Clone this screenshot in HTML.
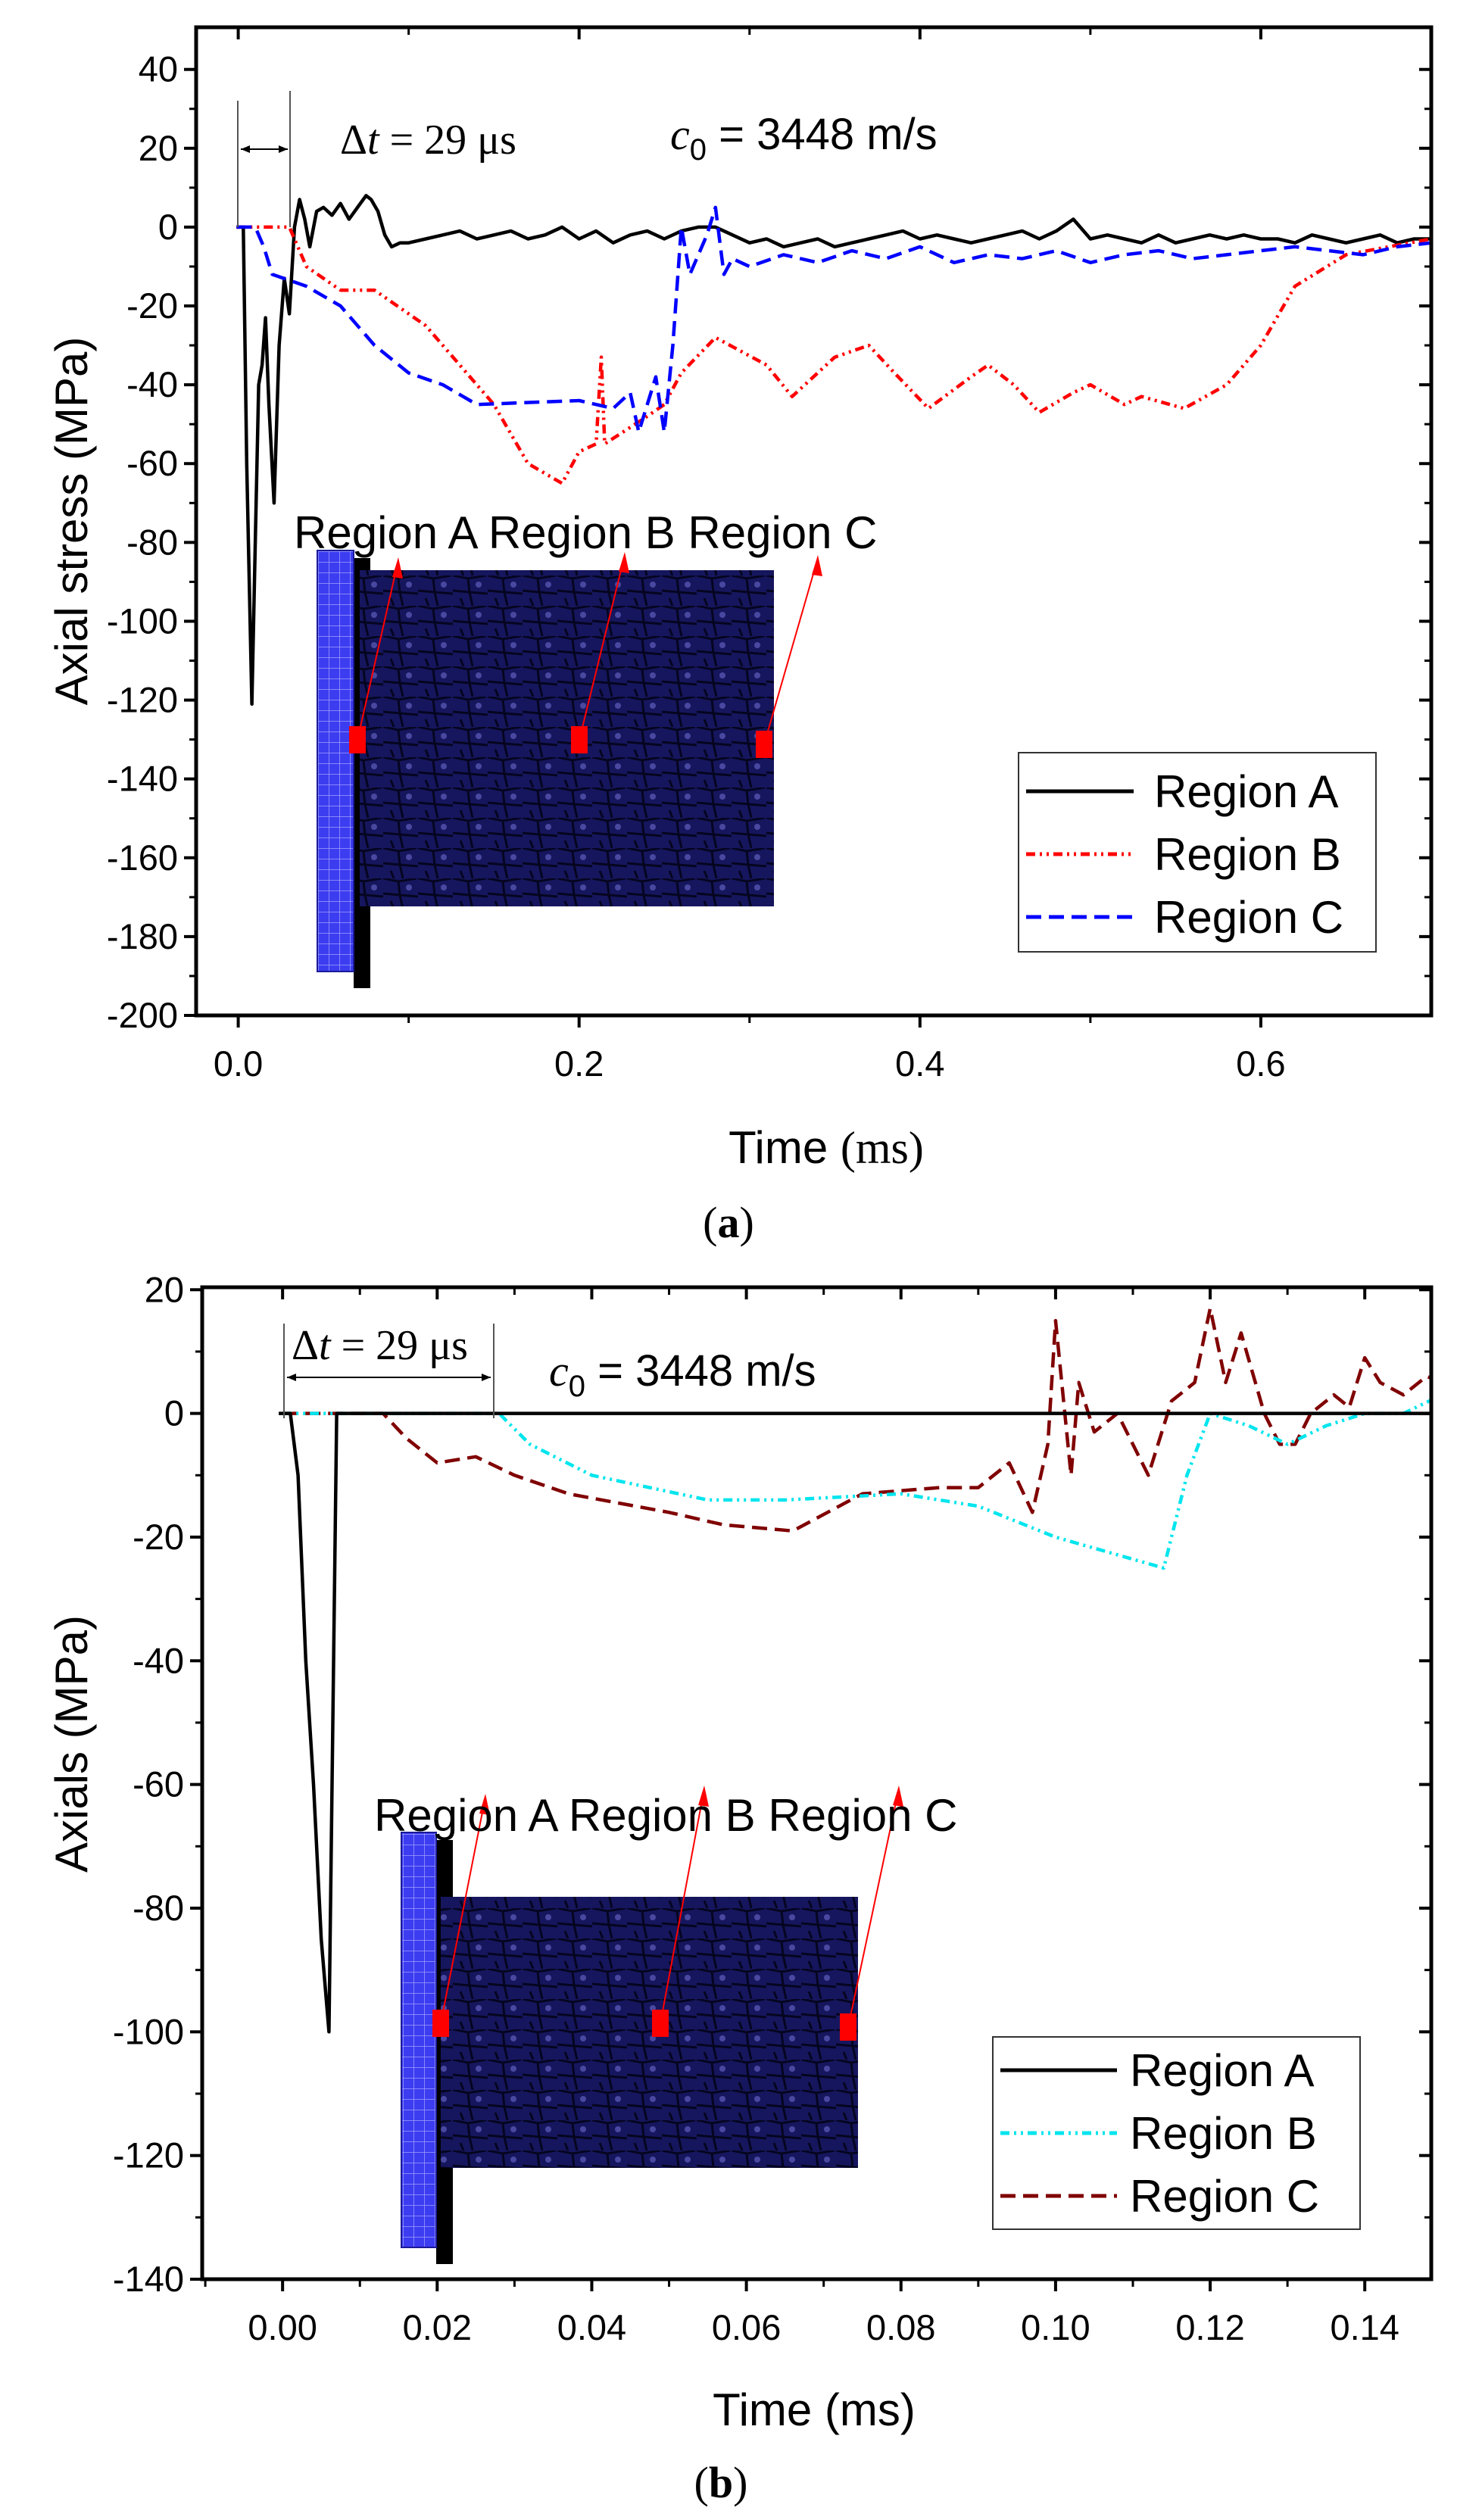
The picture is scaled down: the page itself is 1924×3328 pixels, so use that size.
<!DOCTYPE html>
<html><head><meta charset="utf-8"><style>
html,body{margin:0;padding:0;background:#fff}
svg{display:block}
text{font-family:"Liberation Sans",sans-serif}
.serif{font-family:"Liberation Serif",serif}
</style></head><body>
<svg id="svg" width="1924" height="3328" viewBox="0 0 1924 3328" xmlns="http://www.w3.org/2000/svg">
<defs>
<pattern id="plateGrid" width="14" height="14" patternUnits="userSpaceOnUse"><rect width="14" height="14" fill="#3c3cf0"/><path d="M0 0H14M0 0V14" stroke="#9fa0ff" stroke-width="1.5"/></pattern>
<pattern id="meshGrid" width="46" height="40" patternUnits="userSpaceOnUse"><rect width="46" height="40" fill="#16165e"/><path d="M0 0L20 4L44 0M20 4L22 22L0 20M22 22L46 24M22 22L26 40M10 30L14 40" stroke="#050520" stroke-width="3" fill="none"/><circle cx="34" cy="12" r="4" fill="#4848a0"/></pattern>
<clipPath id="clipA"><rect x="259" y="36" width="1631" height="1305"/></clipPath>
<clipPath id="clipB"><rect x="267" y="1700" width="1623" height="1310"/></clipPath>
</defs>
<g id="chartA"></g>
<g id="chartB"></g>
</svg>
<script>
// ---- Chart (a) data ----
const aATime=[-0.001,0.003,0.005,0.008,0.010,0.012,0.014,0.016,0.018,0.021,0.024,0.027,0.030,0.033,0.036,0.039,0.042,0.046,0.050,0.055,0.060,0.065,0.070,0.075,0.078,0.082,0.086,0.090,0.095,0.100,0.110,0.120,0.130,0.140,0.150,0.160,0.170,0.180,0.190,0.200,0.210,0.220,0.230,0.240,0.250,0.260,0.270,0.280,0.290,0.300,0.310,0.320,0.330,0.340,0.350,0.360,0.370,0.380,0.390,0.400,0.410,0.420,0.430,0.440,0.450,0.460,0.470,0.480,0.490,0.500,0.510,0.520,0.530,0.540,0.550,0.560,0.570,0.580,0.590,0.600,0.610,0.620,0.630,0.640,0.650,0.660,0.670,0.680,0.690,0.700];
const aAVal=[0,0,-60,-121,-80,-40,-35,-23,-45,-70,-30,-13,-22,0,7,2,-5,4,5,3,6,2,5,8,7,4,-2,-5,-4,-4,-3,-2,-1,-3,-2,-1,-3,-2,0,-3,-1,-4,-2,-1,-3,-1,0,0,-2,-4,-3,-5,-4,-3,-5,-4,-3,-2,-1,-3,-2,-3,-4,-3,-2,-1,-3,-1,2,-3,-2,-3,-4,-2,-4,-3,-2,-3,-2,-3,-3,-4,-2,-3,-4,-3,-2,-4,-3,-3];
const aBTime=[-0.001,0.030,0.040,0.060,0.080,0.110,0.150,0.170,0.190,0.200,0.210,0.213,0.215,0.240,0.250,0.260,0.280,0.310,0.325,0.350,0.370,0.385,0.405,0.430,0.440,0.455,0.470,0.490,0.500,0.520,0.530,0.555,0.580,0.600,0.620,0.650,0.700];
const aBVal=[0,0,-10,-16,-16,-25,-45,-60,-65,-57,-55,-33,-55,-48,-45,-37,-28,-35,-43,-33,-30,-37,-46,-38,-35,-40,-47,-42,-40,-45,-43,-46,-40,-30,-15,-7,-3];
const aCTime=[-0.001,0.010,0.015,0.020,0.040,0.060,0.080,0.100,0.120,0.140,0.200,0.220,0.230,0.235,0.245,0.250,0.255,0.260,0.265,0.275,0.280,0.285,0.290,0.300,0.320,0.340,0.360,0.380,0.400,0.420,0.440,0.460,0.480,0.500,0.520,0.540,0.560,0.580,0.600,0.620,0.640,0.660,0.680,0.700];
const aCVal=[0,0,-5,-12,-15,-20,-30,-37,-40,-45,-44,-46,-42,-52,-38,-52,-30,0,-12,-2,5,-12,-8,-10,-7,-9,-6,-8,-5,-9,-7,-8,-6,-9,-7,-6,-8,-7,-6,-5,-6,-7,-5,-4];
const aYTicks=[40,20,0,-20,-40,-60,-80,-100,-120,-140,-160,-180,-200];
const aXTicks=[0.0,0.2,0.4,0.6];
const aXLabels=["0.0","0.2","0.4","0.6"];
// ---- Chart (b) data ----
const bATime=[-0.0005,0.001,0.002,0.003,0.004,0.005,0.006,0.007,0.010,0.150];
const bAVal=[0,0,-10,-40,-60,-85,-100,0,0,0];
const bBTime=[0.000,0.028,0.032,0.040,0.055,0.065,0.080,0.090,0.100,0.114,0.117,0.120,0.125,0.130,0.135,0.140,0.145,0.150];
const bBVal=[0,0,-5,-10,-14,-14,-13,-15,-20,-25,-10,0,-2,-5,-2,0,0,3];
const bCTime=[0.000,0.013,0.016,0.020,0.025,0.030,0.037,0.050,0.057,0.066,0.075,0.085,0.090,0.094,0.097,0.099,0.100,0.102,0.103,0.105,0.108,0.112,0.115,0.118,0.120,0.122,0.124,0.127,0.129,0.131,0.133,0.136,0.138,0.140,0.142,0.145,0.148,0.150];
const bCVal=[0,0,-4,-8,-7,-10,-13,-16,-18,-19,-13,-12,-12,-8,-16,-5,15,-10,5,-3,0,-10,2,5,17,5,13,0,-5,-5,0,3,1,9,5,3,6,5];
const bYTicks=[20,0,-20,-40,-60,-80,-100,-120,-140];
const bXTicks=[0.00,0.02,0.04,0.06,0.08,0.10,0.12,0.14];
const bXLabels=["0.00","0.02","0.04","0.06","0.08","0.10","0.12","0.14"];

const NS="http://www.w3.org/2000/svg";
function mk(parent,tag,attrs,txt){const e=document.createElementNS(NS,tag);for(const k in attrs)e.setAttribute(k,attrs[k]);if(txt!==undefined)e.textContent=txt;parent.appendChild(e);return e;}

function drawChart(g,cfg){
  const X=v=>cfg.L+(v-cfg.x0)/(cfg.x1-cfg.x0)*(cfg.R-cfg.L);
  const Y=v=>cfg.T+(cfg.y1-v)/(cfg.y1-cfg.y0)*(cfg.B-cfg.T);
  const sg=mk(g,'g',{'clip-path':cfg.clip});
  cfg.series.forEach(s=>{
    const d=s.t.map((t,i)=>(i?'L':'M')+X(t).toFixed(1)+' '+Y(s.v[i]).toFixed(1)).join(' ');
    const p=mk(sg,'path',{d:d,fill:'none',stroke:s.color,'stroke-width':s.w||4,'stroke-dasharray':s.dash||'none','stroke-linejoin':'round'});
    
    
  });
  const fr=mk(g,'rect',{x:cfg.L,y:cfg.T,width:cfg.R-cfg.L,height:cfg.B-cfg.T,fill:'none',stroke:'#000','stroke-width':5});
  
  
  const ya=mk(g,'g',{});
  
  
  cfg.yTicks.forEach((v,i)=>{
    const y=Y(v);
    mk(ya,'line',{x1:cfg.L-16,x2:cfg.L,y1:y,y2:y,stroke:'#000','stroke-width':4});
    mk(ya,'line',{x1:cfg.R-16,x2:cfg.R,y1:y,y2:y,stroke:'#000','stroke-width':4});
    if(i<cfg.yTicks.length-1){const ym=Y(v-cfg.yStep/2);
      mk(ya,'line',{x1:cfg.L-9,x2:cfg.L,y1:ym,y2:ym,stroke:'#000','stroke-width':3});
      mk(ya,'line',{x1:cfg.R-9,x2:cfg.R,y1:ym,y2:ym,stroke:'#000','stroke-width':3});}
    const t=mk(ya,'text',{x:cfg.L-24,y:y+16,'text-anchor':'end','font-size':47,fill:'#000'},String(v));
    
    
  });
  const xa=mk(g,'g',{});
  
  
  cfg.xTicks.forEach((v,i)=>{
    const x=X(v);
    mk(xa,'line',{x1:x,x2:x,y1:cfg.B,y2:cfg.B+16,stroke:'#000','stroke-width':4});
    mk(xa,'line',{x1:x,x2:x,y1:cfg.T,y2:cfg.T+16,stroke:'#000','stroke-width':4});
    const xm=X(v+cfg.xStep/2);
    if(xm<cfg.R){mk(xa,'line',{x1:xm,x2:xm,y1:cfg.B,y2:cfg.B+10,stroke:'#000','stroke-width':3});
      mk(xa,'line',{x1:xm,x2:xm,y1:cfg.T,y2:cfg.T+10,stroke:'#000','stroke-width':3});}
    const xp=X(v-cfg.xStep/2);
    if(i===0&&xp>cfg.L){mk(xa,'line',{x1:xp,x2:xp,y1:cfg.B,y2:cfg.B+10,stroke:'#000','stroke-width':3});}
    const t=mk(xa,'text',{x:x,y:cfg.B+80,'text-anchor':'middle','font-size':47,fill:'#000'},cfg.xLabels[i]);
    
    
  });
  return {X,Y};
}

function inset(g,o){
  const ig=mk(g,'g',{});
  
  
  mk(ig,'rect',{x:o.px+o.pw,y:o.py+10,width:22,height:o.ph+12,fill:'#000'});
  mk(ig,'rect',{x:o.px,y:o.py,width:o.pw,height:o.ph,fill:'url(#plateGrid)',stroke:'#1a1a9a','stroke-width':2});
  mk(ig,'rect',{x:o.mx,y:o.my,width:o.mw,height:o.mh,fill:'url(#meshGrid)'});
  o.sq.forEach((s,i)=>{
    mk(ig,'line',{x1:s[0],y1:s[1],x2:o.ar[i][0],y2:o.ar[i][1],stroke:'#f00','stroke-width':2});
    mk(ig,'path',{d:`M${o.ar[i][0]} ${o.ar[i][1]-4} l-8 26 l14 2 z`,fill:'#f00'});
    const r=mk(ig,'rect',{x:s[0]-11,y:s[1]-18,width:22,height:36,fill:'#f00'});
    
    
  });
  const lab=mk(ig,'text',{x:o.lx,y:o.ly,'font-size':60,fill:'#000'},'Region A Region B Region C');
  
  
}

function legend(g,o,items){
  const lg=mk(g,'g',{});
  
  
  mk(lg,'rect',{x:o.x,y:o.y,width:o.w,height:o.h,fill:'#fff',stroke:'#333','stroke-width':2});
  items.forEach((it,i)=>{
    const y=o.y0+i*o.dy;
    mk(lg,'line',{x1:o.l1,x2:o.l2,y1:y,y2:y,stroke:it.color,'stroke-width':5,'stroke-dasharray':it.dash||'none'});
    const t=mk(lg,'text',{x:o.tx,y:y+21,'font-size':60,fill:'#000'},it.label);
    
    
  });
}

// ===== Chart A =====
const gA=document.getElementById('chartA');
drawChart(gA,{L:259,R:1890,T:36,B:1341,x0:-0.0247,x1:0.7,y0:-200,y1:50.7,yStep:20,xStep:0.2,clip:'url(#clipA)',
  yTicks:aYTicks,xTicks:aXTicks,xLabels:aXLabels,
  series:[
    {name:'series-region-a',t:aATime,v:aAVal,color:'#000',w:4.5},
    {name:'series-region-b',t:aBTime,v:aBVal,color:'#f00',w:4.5,dash:'12 6 3 6 3 6'},
    {name:'series-region-c',t:aCTime,v:aCVal,color:'#00f',w:4.5,dash:'20 10'}]});
inset(gA,{px:419,py:727,pw:48,ph:556,mx:475,my:753,mw:547,mh:444,
  sq:[[472,977],[765,977],[1009,983]],ar:[[526,740],[825,733],[1080,737]],lx:388,ly:724});
legend(gA,{x:1345,y:994,w:472,h:263,y0:1045,dy:83,l1:1355,l2:1497,tx:1524},[
  {label:'Region A',color:'#000'},{label:'Region B',color:'#f00',dash:'12 6 3 6 3 6'},{label:'Region C',color:'#00f',dash:'20 10'}]);
(function(){const g=mk(gA,'g',{});
 
 
 mk(g,'line',{x1:314,x2:314,y1:133,y2:300,stroke:'#555','stroke-width':2});
 mk(g,'line',{x1:383,x2:383,y1:120,y2:300,stroke:'#555','stroke-width':2});
 mk(g,'line',{x1:318,x2:380,y1:197,y2:197,stroke:'#000','stroke-width':2});
 mk(g,'path',{d:'M318 197 l12 -5 v10z M380 197 l-12 -5 v10z',fill:'#000'});
 mk(g,'text',{x:449,y:203,'font-size':56,class:'serif'}).innerHTML='Δ<tspan font-style="italic">t</tspan> = 29 μs';
 const c=mk(g,'text',{x:885,y:197,'font-size':58});
 c.innerHTML='<tspan class="serif" font-style="italic">c</tspan><tspan font-size="40" dy="14">0</tspan><tspan dy="-14"> = 3448 m/s</tspan>';
})();
let t;
t=mk(gA,'text',{x:0,y:0,'font-size':60,'text-anchor':'middle',transform:'translate(115 688) rotate(-90)'},'Axial stress (MPa)');

t=mk(gA,'text',{x:1091,y:1536,'font-size':60,'text-anchor':'middle'});
t.innerHTML='Time <tspan class="serif">(ms)</tspan>';

t=mk(gA,'text',{x:962,y:1634,'font-size':58,'text-anchor':'middle',class:'serif'});
t.innerHTML='(<tspan font-weight="bold">a</tspan>)';


// ===== Chart B =====
const gB=document.getElementById('chartB');
drawChart(gB,{L:267,R:1890,T:1700,B:3010,x0:-0.0104,x1:0.1486,y0:-140,y1:20.4,yStep:20,xStep:0.02,clip:'url(#clipB)',
  yTicks:bYTicks,xTicks:bXTicks,xLabels:bXLabels,
  series:[
    {name:'series-region-c',t:bCTime,v:bCVal,color:'#800000',w:4.5,dash:'20 10'},
    {name:'series-region-b',t:bBTime,v:bBVal,color:'#00e5ee',w:4.5,dash:'12 6 3 6 3 6'},
    {name:'series-region-a',t:bATime,v:bAVal,color:'#000',w:4.5}]});
inset(gB,{px:530,py:2420,pw:46,ph:548,mx:582,my:2505,mw:551,mh:358,
  sq:[[582,2672],[872,2672],[1120,2677]],ar:[[641,2373],[930,2362],[1187,2362]],lx:494,ly:2418});
legend(gB,{x:1311,y:2690,w:485,h:254,y0:2734,dy:83,l1:1321,l2:1475,tx:1492},[
  {label:'Region A',color:'#000'},{label:'Region B',color:'#00e5ee',dash:'12 6 3 6 3 6'},{label:'Region C',color:'#800000',dash:'20 10'}]);
(function(){const g=mk(gB,'g',{});
 
 
 mk(g,'line',{x1:375,x2:375,y1:1748,y2:1873,stroke:'#555','stroke-width':2});
 mk(g,'line',{x1:652,x2:652,y1:1748,y2:1873,stroke:'#555','stroke-width':2});
 mk(g,'line',{x1:379,x2:648,y1:1819,y2:1819,stroke:'#000','stroke-width':2});
 mk(g,'path',{d:'M379 1819 l12 -5 v10z M648 1819 l-12 -5 v10z',fill:'#000'});
 mk(g,'text',{x:385,y:1795,'font-size':56,class:'serif'}).innerHTML='Δ<tspan font-style="italic">t</tspan> = 29 μs';
 const c=mk(g,'text',{x:725,y:1830,'font-size':58});
 c.innerHTML='<tspan class="serif" font-style="italic">c</tspan><tspan font-size="40" dy="14">0</tspan><tspan dy="-14"> = 3448 m/s</tspan>';
})();
t=mk(gB,'text',{x:0,y:0,'font-size':60,'text-anchor':'middle',transform:'translate(115 2303) rotate(-90)'},'Axials (MPa)');

t=mk(gB,'text',{x:1075,y:3203,'font-size':60,'text-anchor':'middle'},'Time (ms)');

t=mk(gB,'text',{x:952,y:3298,'font-size':58,'text-anchor':'middle',class:'serif'});
t.innerHTML='(<tspan font-weight="bold">b</tspan>)';

</script>
</body></html>
